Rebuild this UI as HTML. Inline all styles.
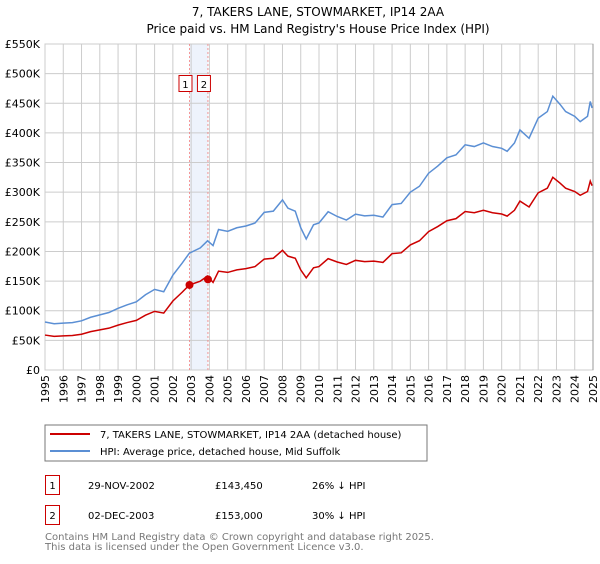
<!DOCTYPE html>
<html><head><meta charset="utf-8"><style>
body{margin:0;background:#fff;font-family:"DejaVu Sans","Liberation Sans",sans-serif;}
svg text{font-family:"DejaVu Sans","Liberation Sans",sans-serif;}
</style></head><body>
<svg id="c" width="600" height="560" xmlns="http://www.w3.org/2000/svg">
<text x="318" y="16" font-size="12" text-anchor="middle">7, TAKERS LANE, STOWMARKET, IP14 2AA</text>
<text x="318" y="33" font-size="12" text-anchor="middle">Price paid vs. HM Land Registry's House Price Index (HPI)</text>
<g id="grid"></g><g id="marks"></g><g id="axes"></g>
<rect x="45" y="425" width="382" height="36" fill="#fff" stroke="#777"/>
<line x1="50" y1="434" x2="90" y2="434" stroke="#cc0000" stroke-width="2"/>
<text x="100" y="438" font-size="10">7, TAKERS LANE, STOWMARKET, IP14 2AA (detached house)</text>
<line x1="50" y1="451" x2="90" y2="451" stroke="#5b8fd4" stroke-width="2"/>
<text x="100" y="455" font-size="10">HPI: Average price, detached house, Mid Suffolk</text>
<g font-size="10">
<rect x="45.5" y="475.5" width="14" height="19" fill="#fff" stroke="#cc0000"/>
<text x="52.5" y="489" text-anchor="middle">1</text>
<text x="88" y="489">29-NOV-2002</text><text x="215" y="489">£143,450</text><text x="312" y="489">26% ↓ HPI</text>
<rect x="45.5" y="505.5" width="14" height="19" fill="#fff" stroke="#cc0000"/>
<text x="52.5" y="519" text-anchor="middle">2</text>
<text x="88" y="519">02-DEC-2003</text><text x="215" y="519">£153,000</text><text x="312" y="519">30% ↓ HPI</text>
</g>
<text x="45" y="540" font-size="10" fill="#777">Contains HM Land Registry data © Crown copyright and database right 2025.</text>
<text x="45" y="550" font-size="10" fill="#777">This data is licensed under the Open Government Licence v3.0.</text>
</svg>
<script>
const years=[1995,1996,1997,1998,1999,2000,2001,2002,2003,2004,2005,2006,2007,2008,2009,2010,2011,2012,2013,2014,2015,2016,2017,2018,2019,2020,2021,2022,2023,2024,2025];
const yTicks=[0,50,100,150,200,250,300,350,400,450,500,550];
const hpiT=[1995,1995.5,1996,1996.5,1997,1997.5,1998,1998.5,1999,1999.5,2000,2000.5,2001,2001.5,2002,2002.5,2002.9,2003.5,2003.9,2004.2,2004.5,2005,2005.5,2006,2006.5,2007,2007.5,2008,2008.3,2008.7,2009,2009.3,2009.7,2010,2010.5,2011,2011.5,2012,2012.5,2013,2013.5,2014,2014.5,2015,2015.5,2016,2016.5,2017,2017.5,2018,2018.5,2019,2019.5,2020,2020.3,2020.7,2021,2021.5,2022,2022.5,2022.8,2023.2,2023.5,2024,2024.3,2024.7,2024.85,2024.95];
const hpiV=[81,78,79,80,83,89,93,97,104,110,115,127,136,132,160,180,197,206,218,210,237,234,240,243,248,266,268,287,273,268,240,221,245,248,267,259,253,263,260,261,258,279,281,300,310,332,344,358,363,380,377,383,377,374,369,383,405,391,425,436,462,448,436,428,419,428,453,442];
const saleT=[2002.91,2003.92];
const saleV=[143.45,153];
const saleLabels=["1","2"];
const X0=45,X1=593,Y0=370,Y1=44;
const x=t=>X0+(t-1995)/30*(X1-X0);
const y=v=>Y0-v/550*(Y0-Y1);
const NS="http://www.w3.org/2000/svg";
function mk(tag,parent,attrs){const e=document.createElementNS(NS,tag);for(const k in attrs)e.setAttribute(k,attrs[k]);parent.appendChild(e);return e;}
const grid=document.getElementById('grid'),marks=document.getElementById('marks'),axes=document.getElementById('axes');
mk('rect',grid,{x:X0,y:Y1,width:X1-X0,height:Y0-Y1,fill:'#fff',stroke:'#ccc'});
const band=mk('rect',grid,{x:x(saleT[0]),y:Y1,width:x(saleT[1])-x(saleT[0]),height:Y0-Y1,fill:'#eef3fc'});


years.forEach(t=>{
 const l=mk('line',grid,{x1:x(t),x2:x(t),y1:Y1,y2:Y0,stroke:'#ccc'});
 
 
 const tx=mk('text',axes,{x:0,y:0,'font-size':11,'text-anchor':'end',transform:`translate(${x(t)+4},${Y0+5}) rotate(-90)`});
 tx.textContent=t;
 
 
});
yTicks.forEach(v=>{
 const l=mk('line',grid,{x1:X0,x2:X1,y1:y(v),y2:y(v),stroke:'#ccc'});
 
 
 const tx=mk('text',axes,{x:X0-5,y:y(v)+4,'font-size':11,'text-anchor':'end'});
 tx.textContent=v===0?'£0':'£'+v+'K';
 
 
});
const ed=mk('line',grid,{x1:X1,x2:X1,y1:Y1,y2:Y0,stroke:'#999'});


saleT.forEach((t,i)=>{
 const l=mk('line',marks,{x1:x(t),x2:x(t),y1:Y1,y2:Y0,stroke:'#f48080','stroke-width':0.8,'stroke-dasharray':'2,2'});
 
 
 const bx=mk('rect',marks,{x:x(t)-10.5,y:75.5,width:13,height:16,fill:'#fff',stroke:'#cc0000'});
 
 
 const tx=mk('text',marks,{x:x(t)-4,y:88,'font-size':10,'text-anchor':'middle'});
 tx.textContent=saleLabels[i];
 
 
});
const hp=mk('polyline',marks,{fill:'none',stroke:'#5b8fd4','stroke-width':1.5,points:hpiT.map((t,i)=>x(t)+','+y(hpiV[i])).join(' ')});


function hpiAt(t){for(let i=1;i<hpiT.length;i++){if(t<=hpiT[i]){const f=(t-hpiT[i-1])/(hpiT[i]-hpiT[i-1]);return hpiV[i-1]+f*(hpiV[i]-hpiV[i-1]);}}return hpiV[hpiV.length-1];}
const r1=saleV[0]/hpiAt(saleT[0]),r2=saleV[1]/hpiAt(saleT[1]);
const pp=mk('polyline',marks,{fill:'none',stroke:'#cc0000','stroke-width':1.5,points:hpiT.map((t,i)=>{const r=t<saleT[1]?r1:r2;return x(t)+','+y(hpiV[i]*r);}).join(' ')});


saleT.forEach((t,i)=>{
 const c=mk('circle',marks,{cx:x(t),cy:y(saleV[i]),r:4,fill:'#cc0000'});
 
 
});
</script>
</body></html>
